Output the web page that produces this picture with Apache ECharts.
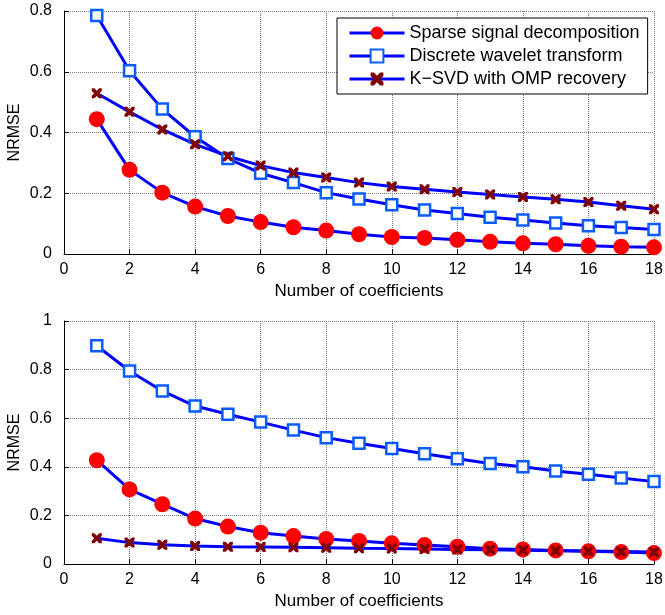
<!DOCTYPE html>
<html>
<head>
<meta charset="utf-8">
<script src="https://cdn.jsdelivr.net/npm/echarts@6/dist/echarts.min.js"></script>
<style>
  html, body { margin: 0; padding: 0; background: #fff; }
  #chart { width: 665px; height: 615px; }
</style>
</head>
<body>
<div id="chart"></div>
<script>
// coefficient counts (x axis)
const coefficients = [1, 2, 3, 4, 5, 6, 7, 8, 9, 10, 11, 12, 13, 14, 15, 16, 17, 18];
const seriesNames = ['Sparse signal decomposition', 'Discrete wavelet transform', 'K\u2212SVD with OMP recovery'];

// upper panel
const topSparse = [0.444, 0.277, 0.202, 0.156, 0.125, 0.105, 0.088, 0.077, 0.065, 0.056, 0.053, 0.047, 0.040, 0.035, 0.032, 0.027, 0.024, 0.022];
const topWavelet = [0.785, 0.603, 0.477, 0.386, 0.314, 0.266, 0.235, 0.202, 0.181, 0.162, 0.145, 0.133, 0.121, 0.112, 0.102, 0.093, 0.087, 0.081];
const topKsvd = [0.529, 0.468, 0.410, 0.361, 0.322, 0.291, 0.268, 0.252, 0.235, 0.222, 0.213, 0.204, 0.196, 0.188, 0.180, 0.171, 0.159, 0.147];

// lower panel
const bottomSparse = [0.427, 0.307, 0.246, 0.187, 0.154, 0.129, 0.115, 0.103, 0.095, 0.085, 0.078, 0.071, 0.063, 0.060, 0.056, 0.052, 0.049, 0.045];
const bottomWavelet = [0.898, 0.794, 0.712, 0.650, 0.616, 0.584, 0.551, 0.520, 0.497, 0.475, 0.454, 0.433, 0.414, 0.400, 0.383, 0.369, 0.354, 0.339];
const bottomKsvd = [0.106, 0.088, 0.079, 0.074, 0.071, 0.070, 0.069, 0.067, 0.065, 0.064, 0.062, 0.060, 0.059, 0.057, 0.055, 0.053, 0.051, 0.049];

const chart = echarts.init(document.getElementById('chart'));

const font = 'Liberation Sans, Arial, Helvetica, sans-serif';
const crossPath = 'path://M0,0 L2.6,0 L5,2.4 L7.4,0 L10,0 L10,2.6 L7.6,5 L10,7.4 L10,10 L7.4,10 L5,7.6 L2.6,10 L0,10 L0,7.4 L2.4,5 L0,2.6 Z';

const pairs = (ys) => ys.map((y, i) => [coefficients[i], y]);

const xAxisCfg = (gridIndex) => ({
  type: 'value',
  gridIndex: gridIndex,
  min: 0,
  max: 18,
  interval: 2,
  name: 'Number of coefficients',
  nameLocation: 'middle',
  nameGap: 29,
  nameTextStyle: { fontSize: 17, color: '#000', fontFamily: font },
  axisLine: { lineStyle: { color: '#000', width: 1 } },
  axisTick: { inside: true, length: 5, lineStyle: { color: '#000' } },
  axisLabel: { fontSize: 16, color: '#000', fontFamily: font, margin: 8 },
  splitLine: { show: true, lineStyle: { type: 'dotted', color: '#777', width: 1 } }
});

const yAxisCfg = (gridIndex, max) => ({
  type: 'value',
  gridIndex: gridIndex,
  min: 0,
  max: max,
  interval: 0.2,
  name: 'NRMSE',
  nameLocation: 'middle',
  nameGap: 41,
  nameMoveOverlap: false,
  nameTextStyle: { fontSize: 16, color: '#000', fontFamily: font },
  axisLine: { show: true, lineStyle: { color: '#000', width: 1 } },
  axisTick: { show: true, inside: true, length: 5, lineStyle: { color: '#000' } },
  axisLabel: { fontSize: 16, color: '#000', fontFamily: font, margin: 12 },
  splitLine: { show: true, lineStyle: { type: 'dotted', color: '#777', width: 1 } }
});

const lineSeries = (name, idx, ys, kind) => {
  const s = {
    name: name,
    type: 'line',
    xAxisIndex: idx,
    yAxisIndex: idx,
    data: pairs(ys),
    lineStyle: { color: '#0000ff', width: 3 },
    z: 2
  };
  if (kind === 'circle') {
    s.symbol = 'circle';
    s.symbolSize = 16;
    s.itemStyle = { color: '#ff0000', borderWidth: 0 };
  } else if (kind === 'square') {
    s.symbol = 'rect';
    s.symbolSize = 11;
    s.itemStyle = { color: '#ffffff', borderColor: '#0a5cff', borderWidth: 2.5 };
  } else {
    s.symbol = crossPath;
    s.symbolSize = 10;
    s.itemStyle = { color: '#800000', borderWidth: 0 };
  }
  return s;
};

chart.setOption({
  animation: false,
  backgroundColor: '#fff',
  grid: [
    { left: 64, top: 11, width: 590, height: 243, outerBoundsMode: 'none', containLabel: false },
    { left: 64, top: 321, width: 590, height: 243, outerBoundsMode: 'none', containLabel: false }
  ],
  xAxis: [xAxisCfg(0), xAxisCfg(1)],
  yAxis: [yAxisCfg(0, 0.8), yAxisCfg(1, 1)],
  legend: {
    data: seriesNames,
    orient: 'vertical',
    left: 337,
    top: 18,
    backgroundColor: '#fff',
    borderColor: '#000',
    borderWidth: 1,
    padding: [6, 8, 6, 11],
    itemGap: 5,
    itemWidth: 55,
    itemHeight: 16,
    lineStyle: { width: 3 },
    textStyle: { fontSize: 18, color: '#000', fontFamily: font }
  },
  series: [
    lineSeries(seriesNames[0], 0, topSparse, 'circle'),
    lineSeries(seriesNames[1], 0, topWavelet, 'square'),
    lineSeries(seriesNames[2], 0, topKsvd, 'cross'),
    lineSeries(seriesNames[0], 1, bottomSparse, 'circle'),
    lineSeries(seriesNames[1], 1, bottomWavelet, 'square'),
    lineSeries(seriesNames[2], 1, bottomKsvd, 'cross')
  ]
});
</script>
</body>
</html>
